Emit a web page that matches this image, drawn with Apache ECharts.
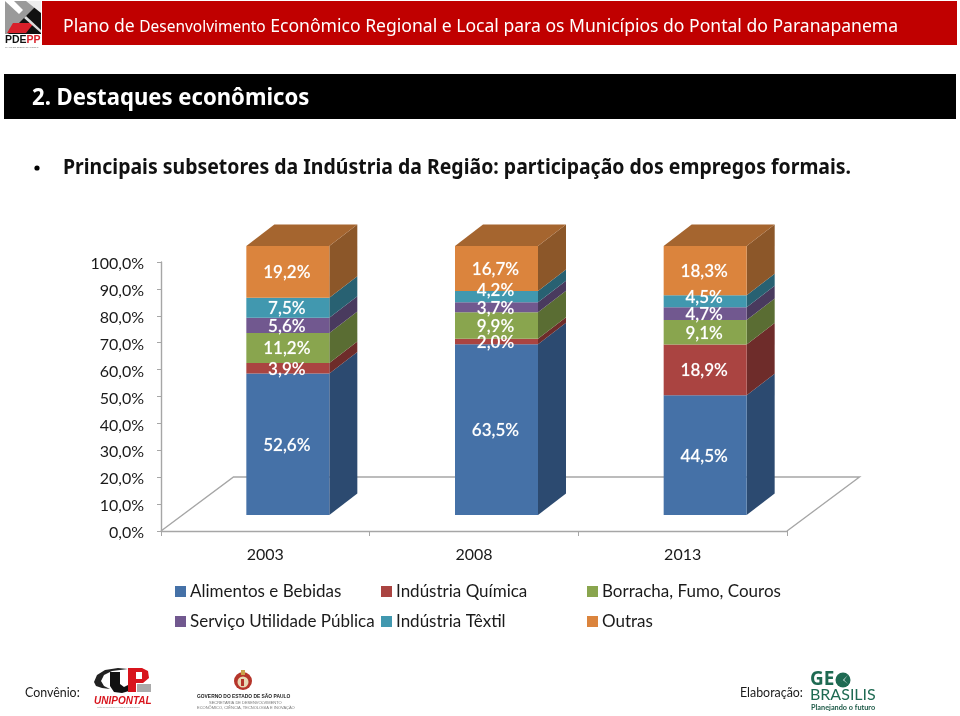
<!DOCTYPE html>
<html><head><meta charset="utf-8">
<style>html,body{margin:0;padding:0;background:#fff}#c{width:960px;height:716px}</style>
<script src="https://cdn.jsdelivr.net/npm/echarts@6/dist/echarts.min.js"></script>
</head><body><div id="c"></div>
<script>
const categories = ['2003', '2008', '2013'];
const alimentos = [52.6, 63.5, 44.5];
const quimica = [3.9, 2.0, 18.9];
const borracha = [11.2, 9.9, 9.1];
const utilidade = [5.6, 3.7, 4.7];
const textil = [7.5, 4.2, 4.5];
const outras = [19.2, 16.7, 18.3];
const yTicks = [0, 10, 20, 30, 40, 50, 60, 70, 80, 90, 100];

const seriesDefs = [
  {name:'Alimentos e Bebidas', values:alimentos, front:'#4571a7', side:'#2c4a70'},
  {name:'Indústria Química', values:quimica, front:'#aa4441', side:'#6e2c2a'},
  {name:'Borracha, Fumo, Couros', values:borracha, front:'#89a54e', side:'#5a6d33'},
  {name:'Serviço Utilidade Pública', values:utilidade, front:'#71588f', side:'#493a5e'},
  {name:'Indústria Têxtil', values:textil, front:'#4198af', side:'#286172'},
  {name:'Outras', values:outras, front:'#db843d', side:'#8c5729', top:'#a5652f'}
];
// nudged labels, as in the original (series index, category index -> px)
const labelNudge = {'4-1':-7, '4-2':-5};

const FONT = 'Lato';
const barW = 83, frontDx = 22.5, frontDy = -16, depthX = 28, depthY = -21.5;

function poly(points, fill, z2){
  return {type:'polygon', shape:{points}, style:{fill, stroke:null}, z2, silent:true};
}
const cum = categories.map(() => 0);
const series = seriesDefs.map((d, si) => {
  const data = d.values.map((v, ci) => {
    const row = [ci, cum[ci], cum[ci] + v, v];
    cum[ci] += v;
    return row;
  });
  return {
    name:d.name, type:'custom', coordinateSystem:'cartesian2d', clip:false,
    itemStyle:{color:d.front},
    encode:{x:0, y:[1,2]},
    data,
    renderItem(params, api){
      const ci = api.value(0);
      const p0 = api.coord([ci, api.value(1)]);
      const p1 = api.coord([ci, api.value(2)]);
      const x0 = p0[0] + frontDx - barW/2, x1 = x0 + barW;
      const yb = p0[1] + frontDy, yt = p1[1] + frontDy;
      const children = [
        poly([[x1,yb],[x1+depthX,yb+depthY],[x1+depthX,yt+depthY],[x1,yt]], d.side, 1),
        poly([[x0,yb],[x1,yb],[x1,yt],[x0,yt]], d.front, 2)
      ];
      if (d.top) children.push(poly([[x0,yt],[x1,yt],[x1+depthX,yt+depthY],[x0+depthX,yt+depthY]], d.top, 2));
      const nudge = labelNudge[si+'-'+ci] || 0;
      children.push({type:'text', z2:5, silent:true, style:{
        x:(x0+x1)/2 - 1, y:(yb+yt)/2 + 1 + nudge,
        text:api.value(3).toFixed(1).replace('.', ',') + '%',
        fill:'#fff', font:'600 17px '+FONT, align:'center', verticalAlign:'middle',
        stroke:'rgba(255,255,255,0.25)', lineWidth:0.4
      }});
      return {type:'group', children};
    }
  };
});

// floor of the 3D plot, derived from the plot rectangle
series.unshift({
  type:'custom', coordinateSystem:'cartesian2d', silent:true, z:1, clip:false, data:[[0,0]],
  encode:{x:0,y:1},
  renderItem(params, api){
    const c = params.coordSys, xl = c.x, xr = c.x + c.width, y = c.y + c.height;
    const dx = 72.5, dy = -54;
    return {type:'polyline', silent:true,
      shape:{points:[[xl,y],[xl+dx,y+dy],[xr+dx,y+dy],[xr,y]]},
      style:{fill:null, stroke:'#a6a6a6', lineWidth:1.4}};
  }
});

const legendPos = [[175,583],[381,583],[587,583],[175,613],[381,613],[587,613]];
const legend = seriesDefs.map((d,i) => ({
  data:[d.name], left:legendPos[i][0], top:legendPos[i][1], padding:0,
  icon:'rect', itemWidth:11, itemHeight:11, itemGap:0, selectedMode:false,
  textStyle:{fontFamily:FONT, fontSize:17, color:'#1a1a1a', padding:[0,0,0,-1]}
}));

const G = (type, o) => Object.assign({type, silent:true}, o);
const txt = (x,y,text,font,fill,extra) => G('text',Object.assign({x,y,z:10,style:{text,font,fill,verticalAlign:'middle'}},extra||{}));
const rect = (x,y,w,h,fill,z) => G('rect',{shape:{x,y,width:w,height:h},style:{fill},z:z||5});
const pg = (pts,fill,z) => G('polygon',{shape:{points:pts},style:{fill},z:z||6});

const HF = '"Noto Sans"';
const graphic = [
  // header
  rect(42,1,915,44,'#c00000'),
  rect(4,74,952,45,'#000000'),
  G('text',{x:63,y:27,z:10,scaleX:0.955,style:{verticalAlign:'middle',fill:'#fff',font:'18.4px '+HF,
    text:'Plano de {s|Desenvolvimento} Econômico Regional e Local para os Municípios do Pontal do Paranapanema',
    rich:{s:{font:'16.2px '+HF,fill:'#fff'}}}}),
  txt(32,98,'2. Destaques econômicos','bold 23.4px '+HF,'#fff',{scaleX:0.945}),
  G('circle',{shape:{cx:37,cy:168,r:2.6},style:{fill:'#000'},z:6}),
  txt(63,168,'Principais subsetores da Indústria da Região: participação dos empregos formais.','bold 21px '+HF,'#111',{scaleX:0.927}),
  // PDEPP logo
  rect(5,1,36,33,'#9a9a9a'),
  pg([[41,1],[41,34],[8,34],[26,16]],'#111'),
  pg([[26,1],[41,1],[41,13]],'#eee'),
  pg([[5,1],[14,1],[23,10],[19,14]],'#fff'),
  pg([[13,23],[34,23],[26,33],[7,33]],'#d8202a',7),
  pg([[26,16],[41,30],[41,33],[24,18]],'#ddd',7),
  G('text',{x:5,y:40,z:10,style:{verticalAlign:'middle',font:'bold 10.5px "Liberation Sans"',fill:'#111',
    text:'PDE{r|PP}',rich:{r:{font:'bold 10.5px "Liberation Sans"',fill:'#d8202a'}}}}),
  txt(5,47,'PLANO DE DESENVOLVIMENTO','2.2px "Liberation Sans"','#777'),
  // footer
  txt(25,693,'Convênio:','12.4px '+FONT,'#1a1a1a'),
  txt(740,693,'Elaboração:','12.4px '+FONT,'#1a1a1a'),
  // UNIPONTAL logo
  pg([[94,682],[97,675],[105,670],[118,668],[128,669],[112,671],[104,675],[101,681],[104,686],[110,689],[102,688],[96,686]],'#222',6),
  pg([[110,672],[120,672],[120,684],[124,687],[128,685],[128,672],[133,672],[133,685],[129,691],[122,693],[114,692],[110,686]],'#111',7),
  pg([[128,668],[142,668],[148,671],[149,678],[143,683],[136,683],[136,692],[128,692]],'#d8141c',8),
  rect(136,672,6,7,'#fff',9),
  rect(137,684,14,8,'#aaaaaa',6),
  txt(94,701,'UNIPONTAL','italic bold 10px "Liberation Sans"','#d8141c'),
  txt(97,707,'União dos Municípios do Pontal do Paranapanema','1.9px "Liberation Sans"','#888'),
  // Governo logo
  G('circle',{shape:{cx:243,cy:681,r:9},style:{fill:'#b5352a'},z:6}),
  G('circle',{shape:{cx:243,cy:682,r:5.5},style:{fill:'#e7d9b5'},z:7}),
  rect(241,670,4,5,'#c9a24a',7),
  rect(241,679,3,7,'#b5352a',8),
  txt(197,697,'GOVERNO DO ESTADO DE SÃO PAULO','bold 4.9px "Liberation Sans"','#222'),
  txt(209,703,'SECRETARIA DE DESENVOLVIMENTO','4px "Liberation Sans"','#777'),
  txt(197,708,'ECONÔMICO, CIÊNCIA, TECNOLOGIA E INOVAÇÃO','4px "Liberation Sans"','#777'),
  // GeoBrasilis logo
  txt(810,680,'GE','bold 19px "Open Sans"','#1e6a52'),
  G('circle',{shape:{cx:843,cy:680,r:7.5},style:{fill:'#1e6a52'},z:6}),
  pg([[838,676],[848,684],[844,680],[848,675],[838,685],[843,680]],'#fff',7),
  txt(810,695,'BRASILIS','16px Lato','#1e6a52'),
  txt(811,708,'Planejando o futuro','bold 7.3px Lato','#1e5a48')
];

const chart = echarts.init(document.getElementById('c'), null, {renderer:'canvas'});
chart.setOption({
  animation:false,
  backgroundColor:'#fff',
  grid:{left:161, right:173, top:262, height:269, containLabel:false},
  xAxis:{type:'category', data:categories, boundaryGap:true,
    axisLine:{lineStyle:{color:'#a6a6a6', width:1.4}},
    axisTick:{show:true, length:5, lineStyle:{color:'#a6a6a6'}},
    axisLabel:{color:'#1a1a1a', fontFamily:FONT, fontSize:16, margin:16}},
  yAxis:{type:'value', min:yTicks[0], max:yTicks[yTicks.length-1], interval:yTicks[1]-yTicks[0],
    splitLine:{show:false},
    axisLine:{show:true, lineStyle:{color:'#a6a6a6', width:1.4}},
    axisTick:{show:true, length:4, lineStyle:{color:'#a6a6a6'}},
    axisLabel:{color:'#1a1a1a', fontFamily:FONT, fontSize:16, margin:17, verticalAlign:'top', padding:[-6,0,0,0],
      formatter:v => v.toFixed(1).replace('.', ',') + '%'}},
  legend, series, graphic
});
</script></body></html>
